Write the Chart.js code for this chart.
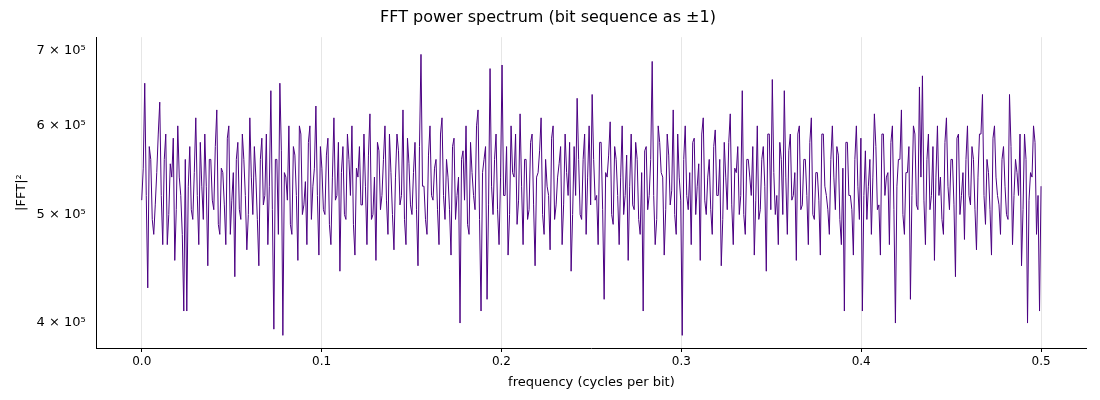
<!DOCTYPE html>
<html><head><meta charset="utf-8">
<script src="https://cdn.jsdelivr.net/npm/chart.js@4"></script>
<style>body{margin:0;background:#fff}#w{width:1100px;height:400px}</style>
</head><body><div id="w"><canvas id="c"></canvas></div>
<script>
// power at even bins (x1000)
const powerEven = [
515,655,430,560,480,545,630,470,590,500,540,455,600,520,410,410,575,495,610,470,
530,590,450,560,505,620,480,545,470,600,515,440,580,495,560,465,610,500,540,450,
585,520,470,645,395,560,655,390,540,600,480,565,455,590,510,470,600,530,625,460,
550,500,585,470,610,520,445,575,495,560,600,460,540,510,590,470,615,500,455,570,
520,600,480,545,465,590,510,620,470,555,500,580,450,695,530,480,600,515,560,470,
610,495,540,460,585,520,400,570,600,480,545,505,620,410,560,420,675,500,590,470,
680,520,460,600,540,490,615,470,560,505,590,450,545,610,480,530,465,600,510,555,
470,590,520,445,575,635,500,560,480,600,640,515,470,580,420,540,605,490,560,470,
600,520,455,590,505,560,480,410,575,520,685,470,600,545,460,590,510,620,480,540,
390,600,505,470,585,530,455,610,500,560,480,595,520,450,580,505,615,470,545,500,
645,480,560,520,460,600,505,575,445,590,660,500,470,560,645,480,590,520,455,600,
510,560,470,610,495,545,460,590,520,480,600,505,565,470,410,580,520,460,600,495,
410,570,530,480,615,505,460,590,540,470,600,400,560,620,480,545,420,600,510,650,
665,470,590,520,455,600,540,480,610,505,560,440,590,520,475,600,510,560,465,590,
640,490,545,460,600,520,480,575,500,640,470,560,520,450,590,400,545,600,480,410,
530];
// power at odd bins (x1000)
const powerOdd = [
550,520,575,495,510,590,520,560,470,555,585,505,540,480,560,530,505,545,520,580,
495,530,560,515,575,490,550,510,585,480,545,560,505,590,520,500,540,575,495,560,
510,590,530,505,560,480,570,545,515,490,575,520,600,500,535,580,495,550,520,575,
505,565,490,540,515,580,545,500,590,520,490,550,575,510,530,565,495,540,580,505,
560,515,590,500,540,570,520,495,585,510,545,505,575,530,495,565,520,550,505,590,
520,560,505,575,495,540,560,515,490,580,520,600,495,545,575,510,530,560,505,540,
520,575,500,545,590,515,530,560,495,580,510,540,570,500,560,520,585,495,540,575,
510,545,580,500,520,560,495,590,540,510,560,520,580,505,545,565,500,575,520,540,
500,565,530,510,580,495,545,570,505,560,520,495,580,540,505,565,525,500,590,515,
560,520,545,580,500,555,590,515,540,505,575,520,560,495,540,580,510,550,575,520,
500,560,540,575,515,495,560,530,590,505,545,520,580,500,540,570,515,545,590,505,
560,520,580,500,545,515,590,530,505,560,540,575,495,550,580,520,505,560,530,585,
520,495,560,540,575,510,590,520,545,580,505,530,560,500,545,575,520,590,505,540,
515,560,505,575,540,520,495,580,530,560,510,585,500,545,560,520,575,505,540,590,
520,560,505,585,540,510,560,530,495,575,520,545,590,505,560,515,540,580,520
];
const nyquist = 0.5;
const yTicks = [400000, 500000, 600000, 700000];
const xTicks = [0, 0.1, 0.2, 0.3, 0.4, 0.5];
const power = [];
powerEven.forEach((v,i)=>{ power.push(v); if (i < powerOdd.length) power.push(powerOdd[i]); });
const pts = power.map((v,i)=>({x: i*nyquist/(power.length-1), y: v*1000}));
const sup = {'0':'⁰','1':'¹','2':'²','3':'³','4':'⁴','5':'⁵','6':'⁶','7':'⁷','8':'⁸','9':'⁹'};
new Chart(document.getElementById('c'), {
  type:'line',
  data:{datasets:[{data:pts, borderColor:'#4B0082', borderWidth:1, pointRadius:0, tension:0}]},
  options:{
    responsive:true, maintainAspectRatio:false, animation:false,
    layout:{padding:{left:10,right:14,top:4,bottom:6}},
    plugins:{legend:{display:false}, tooltip:{enabled:false},
      title:{display:true, text:'FFT power spectrum (bit sequence as ±1)', color:'#000', font:{family:'DejaVu Sans', size:16, weight:'normal'}, padding:{top:4,bottom:10}}},
    scales:{
      x:{type:'linear', min:-0.025, max:0.525,
        afterBuildTicks:s=>{s.ticks=xTicks.map(v=>({value:v}));},
        ticks:{color:'#000', font:{family:'DejaVu Sans', size:12}, callback:v=>v.toFixed(1)},
        grid:{color:'#e6e6e6', drawTicks:true, tickColor:'#000', tickLength:4},
        border:{color:'#000'},
        title:{display:true, text:'frequency (cycles per bit)', color:'#000', font:{family:'DejaVu Sans', size:13}, padding:{top:2}}},
      y:{type:'logarithmic', min:380000, max:720000,
        afterBuildTicks:s=>{s.ticks=yTicks.map(v=>({value:v}));},
        ticks:{color:'#000', font:{family:'DejaVu Sans', size:13}, callback:v=>{const e=Math.floor(Math.log10(v)); const m=Math.round(v/Math.pow(10,e)); return m+' × 10'+String(e).split('').map(c=>sup[c]).join('');}},
        grid:{display:false, drawTicks:true},
        border:{color:'#000'},
        title:{display:true, text:'|FFT|²', color:'#000', font:{family:'DejaVu Sans', size:13}}}
    }
  }
});
</script></body></html>
